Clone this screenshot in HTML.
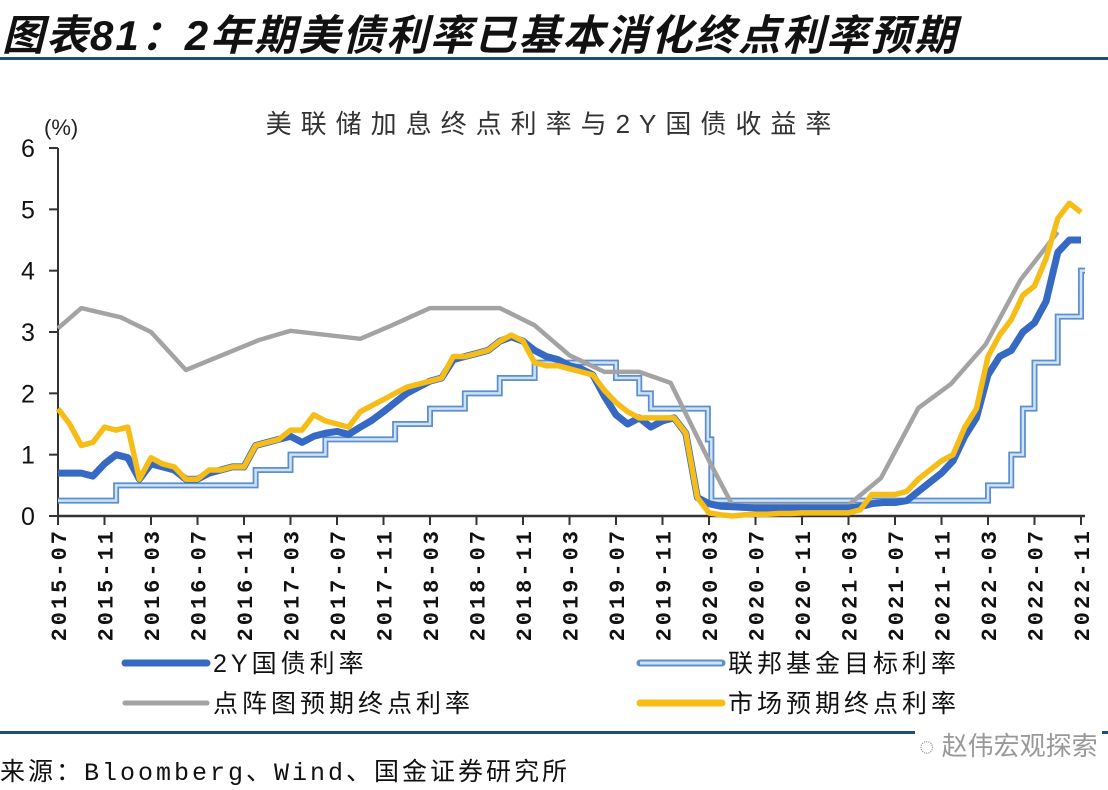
<!DOCTYPE html>
<html><head><meta charset="utf-8">
<style>
html,body{margin:0;padding:0;background:#fff;}
body{width:1108px;height:790px;position:relative;overflow:hidden;font-family:"Liberation Sans","Noto Sans CJK SC",sans-serif;}
.abs{position:absolute;white-space:nowrap;}
</style></head>
<body>
<div class="abs" style="left:2px;top:2px;font-size:42px;font-weight:bold;font-style:italic;color:#111;letter-spacing:2px;">图表81：2年期美债利率已基本消化终点利率预期</div>
<div class="abs" style="left:0;top:57px;width:1108px;height:3px;background:#1f4e79;"></div>
<div class="abs" style="left:0;top:731px;width:1108px;height:3px;background:#1f4e79;"></div>
<div class="abs" style="left:0;top:752px;font-size:25px;color:#111;letter-spacing:3px;font-family:'Liberation Mono','Noto Sans CJK SC',monospace;">来源：Bloomberg、Wind、国金证券研究所</div>
<div class="abs" style="left:915px;top:726px;font-size:26px;color:#999;background:#fff;padding:0 4px;">◌ 赵伟宏观探索</div>

<svg id="chart" width="1108" height="790" style="position:absolute;left:0;top:0;" xmlns="http://www.w3.org/2000/svg"></svg>

<script>
const tickLabels=["2015-07","2015-11","2016-03","2016-07","2016-11","2017-03","2017-07","2017-11","2018-03","2018-07","2018-11","2019-03","2019-07","2019-11","2020-03","2020-07","2020-11","2021-03","2021-07","2021-11","2022-03","2022-07","2022-11"];
const yTicks=[0,1,2,3,4,5,6];
// monthly values, index 0 = 2015-07
const yield2y=[0.7,0.7,0.7,0.65,0.85,1.0,0.95,0.6,0.85,0.8,0.75,0.6,0.6,0.7,0.75,0.8,0.8,1.15,1.2,1.25,1.3,1.2,1.3,1.35,1.38,1.33,1.45,1.56,1.7,1.85,2.0,2.1,2.2,2.25,2.55,2.6,2.65,2.7,2.85,2.92,2.85,2.7,2.6,2.55,2.45,2.4,2.3,1.95,1.65,1.5,1.6,1.45,1.55,1.6,1.35,0.3,0.2,0.16,0.15,0.14,0.13,0.13,0.13,0.13,0.13,0.13,0.13,0.13,0.13,0.15,0.2,0.22,0.22,0.25,0.4,0.55,0.7,0.9,1.3,1.6,2.3,2.6,2.7,3.0,3.15,3.5,4.3,4.5,4.5];
const marketTerminal=[1.75,1.5,1.15,1.2,1.45,1.4,1.45,0.6,0.95,0.85,0.8,0.6,0.6,0.75,0.75,0.8,0.8,1.15,1.2,1.25,1.4,1.4,1.65,1.55,1.5,1.45,1.7,1.8,1.9,2.0,2.1,2.15,2.2,2.25,2.6,2.6,2.65,2.7,2.85,2.95,2.85,2.5,2.45,2.45,2.4,2.35,2.3,2.05,1.85,1.7,1.6,1.6,1.6,1.6,1.35,0.3,0.05,0.02,0.0,0.02,0.03,0.03,0.04,0.04,0.05,0.05,0.05,0.05,0.05,0.1,0.35,0.35,0.35,0.4,0.6,0.75,0.9,1.0,1.45,1.75,2.6,2.95,3.2,3.6,3.75,4.2,4.85,5.1,4.95];
const dotMonths=[0,2,5.4,8,11,17.3,20,26,28.6,32,38,41,44,47,50,52.7,56,58,68,70.8,74,76.8,79.8,82.8,86];
const dotValues=[3.06,3.39,3.24,3.0,2.38,2.87,3.02,2.89,3.1,3.39,3.39,3.11,2.62,2.35,2.35,2.17,0.9,0.18,0.18,0.62,1.76,2.15,2.8,3.85,4.63];
const fedMonths=[0,5,17,20,23,29,32,35,38,41,48,50,51,55.9,56.2,80,82,83,84,86,88];
const fedValues=[0.25,0.5,0.75,1.0,1.25,1.5,1.75,2.0,2.25,2.5,2.25,2.0,1.75,1.25,0.25,0.5,1.0,1.75,2.5,3.25,4.0];
const legendLabels=["2Y国债利率","联邦基金目标利率","点阵图预期终点利率","市场预期终点利率"];

const NS="http://www.w3.org/2000/svg";
const svg=document.getElementById('chart');
const X0=58,PXM=11.625,Y0=516,PXU=61.33;
const xs=m=>X0+m*PXM, ys=v=>Y0-v*PXU;
function mk(tag,attrs,parent){const e=document.createElementNS(NS,tag);for(const k in attrs)e.setAttribute(k,attrs[k]);(parent||svg).appendChild(e);return e;}

const t=mk('text',{x:553,y:133,'text-anchor':'middle','font-size':26,'letter-spacing':9,fill:'#333','font-family':'"Liberation Sans","Noto Sans CJK SC",sans-serif'});
t.textContent="美联储加息终点利率与2Y国债收益率";


const u=mk('text',{x:44,y:135,'font-size':22,fill:'#222','font-family':'"Liberation Sans",sans-serif'});
u.textContent="(%)";



const ya=mk('line',{x1:X0,y1:ys(6),x2:X0,y2:Y0,stroke:'#333','stroke-width':2});


yTicks.forEach(v=>{
  const tk=mk('line',{x1:X0-9,y1:ys(v),x2:X0,y2:ys(v),stroke:'#333','stroke-width':2});
  
  
  const tl=mk('text',{x:28,y:ys(v)+9,'text-anchor':'middle','font-size':25,fill:'#111','font-family':'"Liberation Sans",sans-serif'});
  tl.textContent=v;
  
  
});
const xa=mk('line',{x1:X0,y1:Y0,x2:xs(88)+4,y2:Y0,stroke:'#333','stroke-width':2.5});


tickLabels.forEach((lab,i)=>{
  const x=xs(i*4);
  const tk=mk('line',{x1:x,y1:Y0,x2:x,y2:Y0+9,stroke:'#333','stroke-width':2});
  
  
  const tl=mk('text',{x:0,y:0,'text-anchor':'end','font-size':22,'letter-spacing':3,'font-weight':'bold',fill:'#111','font-family':'"Liberation Mono",monospace',transform:`translate(${x+8},${Y0+12}) rotate(-90)`});
  tl.textContent=lab;
  
  
});

function pathFrom(ms,vs){return ms.map((m,i)=>(i?'L':'M')+xs(m).toFixed(1)+','+ys(vs[i]).toFixed(1)).join(' ');}
function stepPath(ms,vs){let d='M'+xs(ms[0])+','+ys(vs[0]);for(let i=1;i<ms.length;i++){d+=' L'+xs(ms[i])+','+ys(vs[i-1])+' L'+xs(ms[i])+','+ys(vs[i]);}d+=' L'+(xs(88)+4)+','+ys(vs[vs.length-1]);return d;}
const months=yield2y.map((_,i)=>i);

const fedD=stepPath(fedMonths,fedValues);
const f1=mk('path',{d:fedD,fill:'none',stroke:'#5b8fd0','stroke-width':6});


const f2=mk('path',{d:fedD,fill:'none',stroke:'#cfe2f6','stroke-width':2.5});



const g=mk('path',{d:pathFrom(dotMonths,dotValues),fill:'none',stroke:'#a3a3a3','stroke-width':4.5,'stroke-linejoin':'round'});



const b=mk('path',{d:pathFrom(months,yield2y),fill:'none',stroke:'#3569c4','stroke-width':7,'stroke-linejoin':'round'});



const yl=mk('path',{d:pathFrom(months,marketTerminal),fill:'none',stroke:'#f7bd17','stroke-width':5.5,'stroke-linejoin':'round'});



const legPos=[[125,663,'#3569c4'],[640,663,'#5b8fd0'],[125,703,'#a3a3a3'],[640,703,'#f7bd17']];
legendLabels.forEach((lab,i)=>{
  const [lx,ly,c]=legPos[i];
  const ln=mk('line',{x1:lx,y1:ly,x2:lx+82,y2:ly,stroke:c,'stroke-width':i==2?5:7,'stroke-linecap':'round'});
  
  
  if(i==1){const inner=mk('line',{x1:lx,y1:ly,x2:lx+82,y2:ly,stroke:'#cfe2f6','stroke-width':3});}
  const tx=mk('text',{x:lx+88,y:ly+9,'font-size':25,'letter-spacing':4,fill:'#111','font-family':'"Liberation Sans","Noto Sans CJK SC",sans-serif'});
  tx.textContent=lab;
  
  
});
</script>
</body></html>
